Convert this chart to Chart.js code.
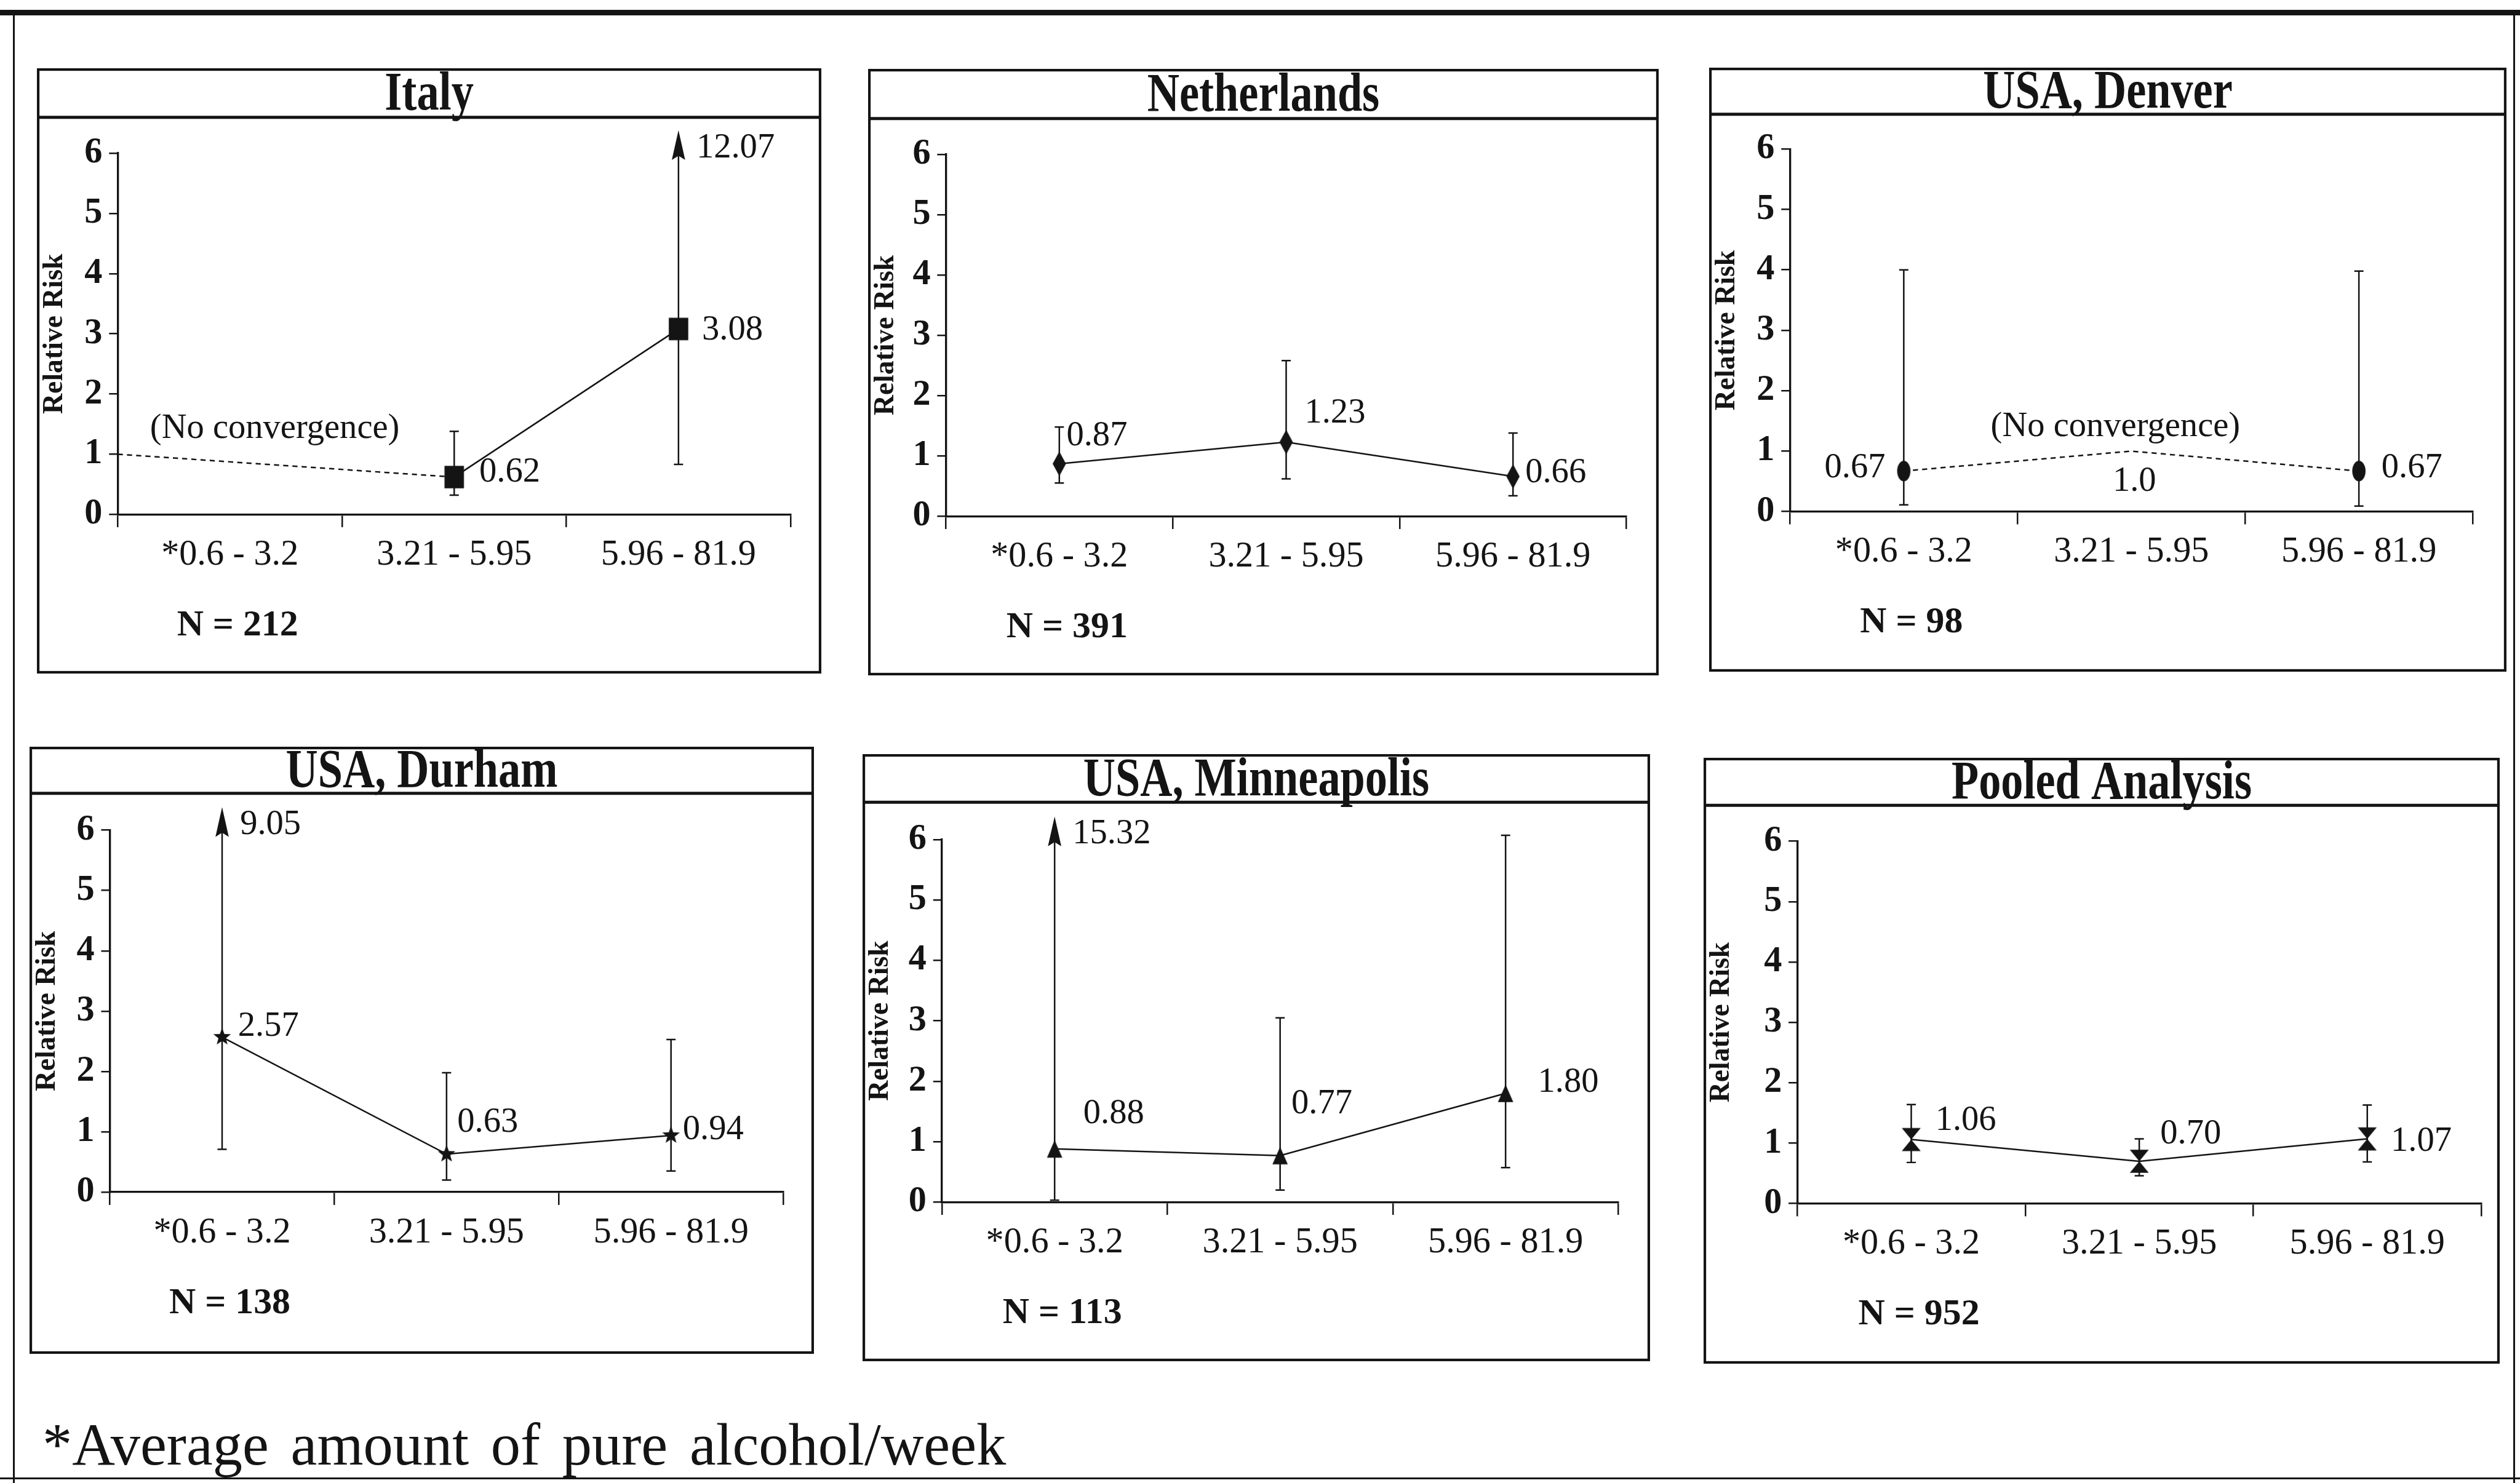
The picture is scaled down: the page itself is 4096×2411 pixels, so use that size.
<!DOCTYPE html>
<html>
<head>
<meta charset="utf-8">
<script src="https://cdn.jsdelivr.net/npm/chart.js@4.4.1/dist/chart.umd.min.js"></script>
<style>
  html, body { margin: 0; padding: 0; background: #fff; }
  #page { position: relative; width: 4096px; height: 2411px; background: #fff; overflow: hidden; }
  #page canvas { position: absolute; }
  .rule { position: absolute; background: #141414; }
  #footnote { position: absolute; font-family: 'Liberation Serif', 'Times New Roman', serif; color: #141414; white-space: nowrap; line-height: 1; word-spacing: 0.12em; }
</style>
</head>
<body>
<div id="page">
  <div class="rule" id="ruleTop"></div>
  <div class="rule" id="ruleLeft"></div>
  <div class="rule" id="ruleRight"></div>
  <div class="rule" id="ruleBottom"></div>
  <div id="footnote">*Average amount of pure alcohol/week</div>
</div>
<script>
// alcohol bands on the x axis, risk ticks on the y axis (same for all six panels)
const categories = ['*0.6 - 3.2', '3.21 - 5.95', '5.96 - 81.9'];
const riskTicks = [0, 1, 2, 3, 4, 5, 6];

const titles = ['Italy', 'Netherlands', 'USA, Denver', 'USA, Durham', 'USA, Minneapolis', 'Pooled Analysis'];
const sampleSizes = [212, 391, 98, 138, 113, 952];

// relative risk with lower / upper 95% limits, null where there is no estimate
const italyRR = [null, 0.62, 3.08];
const italyLow = [null, 0.32, 0.83];
const italyHigh = [null, 1.38, 12.07];

const netherlandsRR = [0.87, 1.23, 0.66];
const netherlandsLow = [0.55, 0.62, 0.34];
const netherlandsHigh = [1.48, 2.58, 1.38];

const denverRR = [0.67, null, 0.67];
const denverLow = [0.11, null, 0.09];
const denverHigh = [4.0, null, 3.98];

const durhamRR = [2.57, 0.63, 0.94];
const durhamLow = [0.71, 0.2, 0.35];
const durhamHigh = [9.05, 1.98, 2.53];

const minneapolisRR = [0.88, 0.77, 1.80];
const minneapolisLow = [0.03, 0.2, 0.57];
const minneapolisHigh = [15.32, 3.05, 6.07];

const pooledRR = [1.06, 0.70, 1.07];
const pooledLow = [0.68, 0.46, 0.69];
const pooledHigh = [1.64, 1.07, 1.63];

// dotted "no convergence" traces (x = band index, -0.5 is the start of the axis)
const italyNoConvX = [-0.5, 1];
const italyNoConvY = [1.0, 0.62];
const denverNoConvX = [0, 1, 2];
const denverNoConvY = [0.67, 1.0, 0.67];

// ---- drawing setup ----
const S = 4096 / 4924;          // reference px -> page px
const INK = '#141414';
const FONT = "'Liberation Serif', 'Times New Roman', serif";
Chart.defaults.font.family = FONT;
Chart.defaults.color = INK;

const page = document.getElementById('page');

// layout is in reference pixels: box [left, top, right, bottom, title divider], axis [x start, x end, y of 6, y of 0]
// tags = value label offsets [dx, dy, align] from each point
const panels = [
  { title: titles[0], n: sampleSizes[0], rr: italyRR, lo: italyLow, hi: italyHigh,
    dotX: italyNoConvX, dotY: italyNoConvY, note: [0.2, 1.42], solid: true, marker: ['square', 38, 44],
    box: [72, 134, 1605, 1317, 230], axis: [230, 1545, 300, 1006],
    tags: [null, [49, -9, 'left'], [46, 3, 'left']] },
  { title: titles[1], n: sampleSizes[1], rr: netherlandsRR, lo: netherlandsLow, hi: netherlandsHigh,
    solid: true, marker: ['diamond', 26, 48],
    box: [1696, 135, 3241, 1320, 232], axis: [1848, 3178, 302, 1009],
    tags: [[14, -54, 'left'], [36, -56, 'left'], [24, -7, 'left']] },
  { title: titles[2], n: sampleSizes[2], rr: denverRR, lo: denverLow, hi: denverHigh,
    dotX: denverNoConvX, dotY: denverNoConvY, note: [0.93, 1.40], solid: false, marker: ['ellipse', 26, 40],
    box: [3339, 132, 4897, 1313, 223], axis: [3497, 4831, 291, 1000],
    tags: [[-36, -6, 'right'], [6, 60, 'center'], [44, -6, 'left']] },
  { title: titles[3], n: sampleSizes[3], rr: durhamRR, lo: durhamLow, hi: durhamHigh,
    solid: true, marker: ['star', 36, 36],
    box: [58, 1459, 1591, 2645, 1550], axis: [215, 1531, 1622, 2329],
    tags: [[31, -20, 'left'], [21, -62, 'left'], [23, -11, 'left']] },
  { title: titles[4], n: sampleSizes[4], rr: minneapolisRR, lo: minneapolisLow, hi: minneapolisHigh,
    solid: true, marker: ['triangle', 30, 34],
    box: [1685, 1474, 3224, 2661, 1568], axis: [1840, 3162, 1641, 2350],
    tags: [[56, -68, 'left'], [22, -100, 'left'], [63, -21, 'left']] },
  { title: titles[5], n: sampleSizes[5], rr: pooledRR, lo: pooledLow, hi: pooledHigh,
    solid: true, marker: ['hourglass', 37, 45],
    box: [3329, 1481, 4885, 2665, 1574], axis: [3512, 4849, 1644, 2352],
    tags: [[47, -37, 'left'], [41, -53, 'left'], [46, 5, 'left']] }
];

function makeMarker(kind, w, h) {
  const c = document.createElement('canvas');
  c.width = Math.ceil(w * S) + 2;
  c.height = Math.ceil(h * S) + 2;
  const g = c.getContext('2d');
  const cx = c.width / 2, cy = c.height / 2, rw = w * S / 2, rh = h * S / 2;
  g.fillStyle = INK;
  g.beginPath();
  if (kind === 'square') {
    g.rect(cx - rw, cy - rh, 2 * rw, 2 * rh);
  } else if (kind === 'diamond') {
    g.moveTo(cx, cy - rh); g.lineTo(cx + rw, cy); g.lineTo(cx, cy + rh); g.lineTo(cx - rw, cy);
  } else if (kind === 'ellipse') {
    g.ellipse(cx, cy, rw, rh, 0, 0, Math.PI * 2);
  } else if (kind === 'triangle') {
    g.moveTo(cx, cy - rh); g.lineTo(cx + rw, cy + rh); g.lineTo(cx - rw, cy + rh);
  } else if (kind === 'star') {
    for (let k = 0; k < 10; k++) {
      const a = -Math.PI / 2 + k * Math.PI / 5;
      const f = k % 2 ? 0.42 : 1;
      const px = cx + Math.cos(a) * rw * f, py = cy + Math.sin(a) * rh * f;
      k ? g.lineTo(px, py) : g.moveTo(px, py);
    }
  } else if (kind === 'hourglass') {
    g.moveTo(cx - rw, cy - rh); g.lineTo(cx + rw, cy - rh); g.lineTo(cx, cy); g.closePath();
    g.moveTo(cx - rw, cy + rh); g.lineTo(cx + rw, cy + rh); g.lineTo(cx, cy);
  }
  g.closePath();
  g.fill();
  return c;
}

function putText(ctx, str, x, y, size, weight, align) {
  ctx.font = `${weight} ${size * S}px ${FONT}`;
  ctx.textAlign = align;
  ctx.textBaseline = 'middle';
  ctx.fillText(str, x, y);
}

function buildPanel(p) {
  const [bl, bt, br, bb, bd] = p.box;
  const [axL, axR, y6, y0] = p.axis;
  const canvas = document.createElement('canvas');
  canvas.width = Math.round((br - bl) * S);
  canvas.height = Math.round((bb - bt) * S);
  canvas.style.left = Math.round(bl * S) + 'px';
  canvas.style.top = Math.round(bt * S) + 'px';
  page.appendChild(canvas);

  const datasets = [{
    data: p.rr.map((v, i) => ({ x: i, y: v })),
    showLine: p.solid,
    spanGaps: false,
    borderColor: INK,
    borderWidth: 3 * S,
    pointStyle: makeMarker(p.marker[0], p.marker[1], p.marker[2]),
    pointRadius: 12 * S,
    pointBackgroundColor: INK,
    pointBorderWidth: 0,
    clip: false
  }];
  if (p.dotX) {
    datasets.push({
      data: p.dotX.map((x, i) => ({ x: x, y: p.dotY[i] })),
      borderColor: INK,
      borderWidth: 3 * S,
      borderDash: [10 * S, 8 * S],
      pointRadius: 0,
      clip: false
    });
  }

  // box, title bar, error bars and all the small labels
  const decor = {
    id: 'decor',
    beforeDraw(chart) {
      const ctx = chart.ctx;
      const w = chart.width, h = chart.height;
      ctx.save();
      ctx.strokeStyle = INK;
      ctx.lineWidth = 5 * S;
      ctx.strokeRect(2.5 * S, 2.5 * S, w - 5 * S, h - 5 * S);
      const dy = (bd - bt) * S;
      ctx.lineWidth = 6 * S;
      ctx.beginPath(); ctx.moveTo(0, dy); ctx.lineTo(w, dy); ctx.stroke();
      ctx.fillStyle = INK;
      ctx.font = `bold ${106 * S}px ${FONT}`;
      ctx.textAlign = 'center';
      ctx.textBaseline = 'alphabetic';
      ctx.translate(w / 2, dy / 2 + 33 * S);
      ctx.scale(0.82, 1);
      ctx.fillText(p.title, 0, 0);
      ctx.restore();
    },
    beforeDatasetsDraw(chart) {
      const ctx = chart.ctx, xs = chart.scales.x, ys = chart.scales.y;
      // open-ended limits are drawn as an arrow that stops a little above the 6 line
      const tipPx = ys.getPixelForValue(ys.max) - 45 * S;
      ctx.save();
      ctx.strokeStyle = INK;
      ctx.fillStyle = INK;
      ctx.lineWidth = 3 * S;
      p.lo.forEach((lo, i) => {
        if (lo == null) return;
        const hi = p.hi[i];
        const px = xs.getPixelForValue(i);
        const pLo = ys.getPixelForValue(lo);
        const arrow = ys.getPixelForValue(hi) < tipPx;
        const pHi = arrow ? tipPx : ys.getPixelForValue(hi);
        ctx.beginPath();
        ctx.moveTo(px, pLo); ctx.lineTo(px, arrow ? pHi + 20 * S : pHi);
        ctx.moveTo(px - 9 * S, pLo); ctx.lineTo(px + 9 * S, pLo);
        if (!arrow) { ctx.moveTo(px - 9 * S, pHi); ctx.lineTo(px + 9 * S, pHi); }
        ctx.stroke();
        if (arrow) {
          ctx.beginPath();
          ctx.moveTo(px, pHi);
          ctx.lineTo(px + 13 * S, pHi + 58 * S);
          ctx.lineTo(px, pHi + 50 * S);
          ctx.lineTo(px - 13 * S, pHi + 58 * S);
          ctx.closePath();
          ctx.fill();
          putText(ctx, hi.toFixed(2), px + 35 * S, pHi + 35 * S, 68, 'normal', 'left');
        }
      });
      ctx.restore();
    },
    afterDatasetsDraw(chart) {
      const ctx = chart.ctx, xs = chart.scales.x, ys = chart.scales.y;
      ctx.save();
      ctx.fillStyle = INK;
      p.tags.forEach((t, i) => {
        if (!t) return;
        let v = p.rr[i], str;
        if (v != null) {
          str = v.toFixed(2);
        } else {
          const k = p.dotX.indexOf(i);
          v = p.dotY[k];
          str = v.toFixed(1);
        }
        putText(ctx, str, xs.getPixelForValue(i) + t[0] * S, ys.getPixelForValue(v) + t[1] * S, 68, 'normal', t[2]);
      });
      if (p.note) {
        putText(ctx, '(No convergence)', xs.getPixelForValue(p.note[0]), ys.getPixelForValue(p.note[1]), 68, 'normal', 'center');
      }
      putText(ctx, 'N = ' + p.n, xs.getPixelForValue(0) + 15 * S, ys.getPixelForValue(0) + 218 * S, 72, 'bold', 'center');
      ctx.restore();
    }
  };

  new Chart(canvas, {
    type: 'line',
    data: { datasets: datasets },
    options: {
      responsive: false,
      animation: false,
      devicePixelRatio: 1,
      events: [],
      layout: { padding: { top: (y6 - bt) * S, right: (br - axR) * S, bottom: 0, left: 0 } },
      plugins: { legend: { display: false }, tooltip: { enabled: false }, title: { display: false } },
      scales: {
        x: {
          type: 'linear',
          min: -0.5,
          max: 2.5,
          afterBuildTicks: s => { s.ticks = categories.map((c, i) => ({ value: i })); },
          afterFit: s => { s.height = (bb - y0) * S; },
          ticks: {
            callback: v => categories[v],
            color: INK,
            font: { family: FONT, size: 70 * S },
            padding: 13 * S,
            maxRotation: 0,
            autoSkip: false
          },
          grid: { offset: true, drawOnChartArea: false, drawTicks: true, tickLength: 25 * S, color: INK, lineWidth: 3 * S },
          border: { display: true, color: INK, width: 4 * S }
        },
        y: {
          type: 'linear',
          min: 0,
          max: 6,
          afterBuildTicks: s => { s.ticks = riskTicks.map(v => ({ value: v })); },
          afterFit: s => { s.width = (axL - bl) * S; },
          ticks: { color: INK, font: { family: FONT, size: 70 * S, weight: 'bold' }, padding: 13 * S },
          grid: { drawOnChartArea: false, drawTicks: true, tickLength: 17 * S, color: INK, lineWidth: 3 * S },
          border: { display: true, color: INK, width: 4 * S },
          title: {
            display: true,
            text: 'Relative Risk',
            color: INK,
            font: { family: FONT, size: 55 * S, weight: 'bold' },
            padding: { top: 2 * S, bottom: 0 }
          }
        }
      }
    },
    plugins: [decor]
  });
}

panels.forEach(buildPanel);

// page frame and footnote
function place(id, l, t, w, h) {
  const el = document.getElementById(id);
  el.style.left = l * S + 'px';
  el.style.top = t * S + 'px';
  el.style.width = w * S + 'px';
  el.style.height = h * S + 'px';
}
place('ruleTop', 0, 19, 4924, 11);
place('ruleLeft', 25, 19, 4, 2879);
place('ruleRight', 4911, 19, 4, 2879);
place('ruleBottom', 0, 2887, 4924, 4);

const foot = document.getElementById('footnote');
foot.style.fontSize = 116 * S + 'px';
foot.style.left = 83 * S + 'px';
foot.style.top = (2863 - 0.8375 * 116) * S + 'px';
</script>
</body>
</html>
